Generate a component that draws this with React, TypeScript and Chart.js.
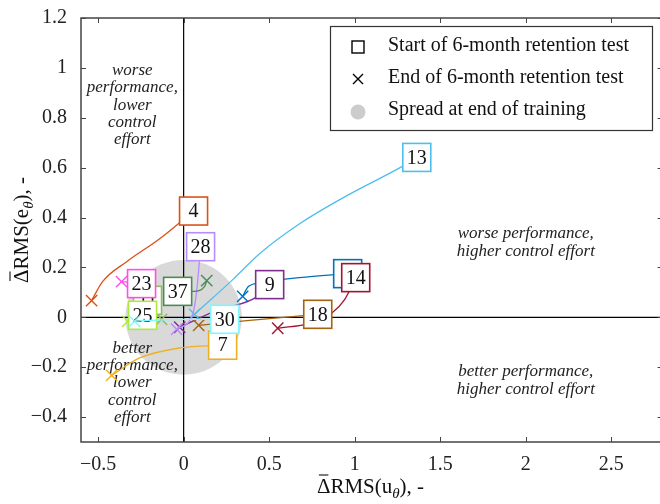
import React, { useEffect, useRef } from "react";
import { Chart, registerables } from "chart.js";

Chart.register(...registerables);

const SERIF = '"Liberation Serif", "Times New Roman", serif';

// axis ranges and ticks
const X_RANGE = [-0.6, 2.8];
const Y_RANGE = [-0.5, 1.2];
const xTicks = [-0.5, 0, 0.5, 1, 1.5, 2, 2.5];
const yTicks = [-0.4, -0.2, 0, 0.2, 0.4, 0.6, 0.8, 1, 1.2];

// participant ids and colours
const participants = ["2", "4", "7", "9", "11", "13", "14", "18", "23", "25", "28", "30", "37"];
const colours = [
  "#0072BD", "#D95319", "#EDB120", "#7E2F8E", "#8DBB5E", "#4DBEEE", "#A2142F",
  "#A6620F", "#FF4FE6", "#AEEA3E", "#B68CFF", "#7DF9FF", "#4A8A55",
];

// trajectories: first point = start of retention test, last point = end of test
const path2 = [[0.959, 0.175], [0.678, 0.159], [0.456, 0.139], [0.38, 0.124], [0.345, 0.084]];
const path4 = [[0.058, 0.426], [-0.14, 0.315], [-0.333, 0.223], [-0.474, 0.143], [-0.538, 0.067]];
const path7 = [[0.228, -0.112], [-0.023, -0.123], [-0.257, -0.163], [-0.421, -0.233]];
const path9 = [[0.503, 0.131], [0.433, 0.084], [0.181, 0.024], [-0.023, -0.04]];
const path11 = [[-0.211, 0.068], [-0.129, -0.008]];
const path13 = [[1.363, 0.641], [1.281, 0.606], [0.971, 0.494], [0.678, 0.375], [0.444, 0.255], [0.287, 0.151], [0.064, 0.012]];
const path14 = [[1.006, 0.159], [0.942, 0.072], [0.865, 0.016], [0.737, -0.024], [0.55, -0.044]];
const path18 = [[0.784, 0.012], [0.386, -0.012], [0.088, -0.032]];
const path23 = [[-0.246, 0.135], [-0.363, 0.143]];
const path25 = [[-0.24, 0.008], [-0.327, -0.016]];
const path28 = [[0.099, 0.283], [0.076, 0.104], [0.053, 0.012], [-0.041, -0.048]];
const path30 = [[0.24, -0.008], [-0.023, -0.008], [-0.287, -0.016]];
const path37 = [[-0.035, 0.104], [0.058, 0.104], [0.123, 0.124], [0.135, 0.147]];
const paths = [path2, path4, path7, path9, path11, path13, path14, path18, path23, path25, path28, path30, path37];

// spread at end of training (centre and half-widths)
const spreadCentre = [0, 0];
const spreadRadius = [0.34, 0.23];

const legendLabels = [
  "Start of 6-month retention test",
  "End of 6-month retention test",
  "Spread at end of training",
];

const quadrantNotes = [
  { x: -0.3, y: 0.85, lines: ["worse", "performance,", "lower", "control", "effort"] },
  { x: 2.0, y: 0.3, lines: ["worse performance,", "higher control effort"] },
  { x: 2.0, y: -0.253, lines: ["better performance,", "higher control effort"] },
  { x: -0.3, y: -0.263, lines: ["better", "performance,", "lower", "control", "effort"] },
];

const fmt = (v: number) => (v === 0 ? "0" : v < 0 ? "\u2212" + String(Math.abs(v)) : String(v));

// "Δ̄RMS(x_θ), -" with a bar over the delta and a subscript theta
function drawTitle(ctx: CanvasRenderingContext2D, cx: number, cy: number, sym: string) {
  const big = `21px ${SERIF}`;
  const small = `italic 15px ${SERIF}`;
  const parts = ["\u0394", "RMS(" + sym, "\u03B8", "), -"];
  ctx.font = big;
  const wD = ctx.measureText(parts[0]).width;
  const w1 = ctx.measureText(parts[1]).width;
  const w3 = ctx.measureText(parts[3]).width;
  ctx.font = small;
  const w2 = ctx.measureText(parts[2]).width;
  const x0 = cx - (wD + w1 + w2 + w3) / 2;
  const baseline = cy + 7;
  ctx.textAlign = "left";
  ctx.textBaseline = "alphabetic";
  ctx.fillStyle = "#111";
  ctx.strokeStyle = "#111";
  ctx.font = big;
  ctx.fillText(parts[0], x0, baseline);
  ctx.lineWidth = 1.1;
  ctx.beginPath();
  ctx.moveTo(x0 + 2, baseline - 18);
  ctx.lineTo(x0 + wD - 2, baseline - 18);
  ctx.stroke();
  ctx.fillText(parts[1], x0 + wD, baseline);
  ctx.font = small;
  ctx.fillText(parts[2], x0 + wD + w1, baseline + 5);
  ctx.font = big;
  ctx.fillText(parts[3], x0 + wD + w1 + w2, baseline);
}

const decor = {
  id: "decor",
  beforeDatasetsDraw(chart: any) {
    const { ctx, chartArea: a, scales } = chart;
    const x = scales.x, y = scales.y;
    ctx.save();
    ctx.beginPath();
    ctx.rect(a.left, a.top, a.right - a.left, a.bottom - a.top);
    ctx.clip();
    // spread ellipse
    const cx = x.getPixelForValue(spreadCentre[0]);
    const cy = y.getPixelForValue(spreadCentre[1]);
    const rx = Math.abs(x.getPixelForValue(spreadCentre[0] + spreadRadius[0]) - cx);
    const ry = Math.abs(y.getPixelForValue(spreadCentre[1] + spreadRadius[1]) - cy);
    ctx.fillStyle = "#d9d9d9";
    ctx.beginPath();
    ctx.ellipse(cx, cy, rx, ry, 0, 0, Math.PI * 2);
    ctx.fill();
    // zero lines
    const x0 = x.getPixelForValue(0), y0 = y.getPixelForValue(0);
    ctx.strokeStyle = "#000";
    ctx.lineWidth = 1.2;
    ctx.beginPath();
    ctx.moveTo(x0, a.top); ctx.lineTo(x0, a.bottom);
    ctx.moveTo(a.left, y0); ctx.lineTo(a.right, y0);
    ctx.stroke();
    // quadrant notes
    ctx.font = `italic 17px ${SERIF}`;
    ctx.fillStyle = "#222";
    ctx.textAlign = "center";
    ctx.textBaseline = "middle";
    for (const n of quadrantNotes) {
      const px = x.getPixelForValue(n.x), py = y.getPixelForValue(n.y);
      n.lines.forEach((l, i) => ctx.fillText(l, px, py + (i - (n.lines.length - 1) / 2) * 17.3));
    }
    ctx.restore();
  },
  afterDatasetDraw(chart: any, args: any) {
    const i = args.index;
    const pt = args.meta.data[0];
    if (!pt) return;
    const { ctx } = chart;
    const s = 28;
    ctx.save();
    ctx.fillStyle = "#fff";
    ctx.strokeStyle = colours[i];
    ctx.lineWidth = 1.6;
    ctx.fillRect(pt.x - s / 2, pt.y - s / 2, s, s);
    ctx.strokeRect(pt.x - s / 2, pt.y - s / 2, s, s);
    ctx.fillStyle = "#111";
    ctx.font = `20px ${SERIF}`;
    ctx.textAlign = "center";
    ctx.textBaseline = "middle";
    ctx.fillText(participants[i], pt.x, pt.y + 1);
    ctx.restore();
  },
  afterDraw(chart: any) {
    const { ctx, chartArea: a, scales } = chart;
    const x = scales.x, y = scales.y;
    ctx.save();
    // frame
    ctx.strokeStyle = "#444";
    ctx.lineWidth = 1.5;
    ctx.strokeRect(a.left, a.top, a.right - a.left, a.bottom - a.top);
    // inward ticks on all sides
    ctx.lineWidth = 1;
    ctx.beginPath();
    for (const v of xTicks) {
      const px = Math.round(x.getPixelForValue(v)) + 0.5;
      ctx.moveTo(px, a.bottom); ctx.lineTo(px, a.bottom - 5);
      ctx.moveTo(px, a.top); ctx.lineTo(px, a.top + 5);
    }
    for (const v of yTicks) {
      const py = Math.round(y.getPixelForValue(v)) + 0.5;
      ctx.moveTo(a.left, py); ctx.lineTo(a.left + 5, py);
      ctx.moveTo(a.right, py); ctx.lineTo(a.right - 5, py);
    }
    ctx.stroke();

    // legend
    const L = { l: 330, t: 26, r: 652, b: 130 };
    ctx.fillStyle = "#fff";
    ctx.fillRect(L.l, L.t, L.r - L.l, L.b - L.t);
    ctx.strokeStyle = "#333";
    ctx.lineWidth = 1.2;
    ctx.strokeRect(L.l + 0.5, L.t + 0.5, L.r - L.l, L.b - L.t);
    const rows = [46, 78, 110];
    const mx = 358;
    ctx.strokeStyle = "#000";
    ctx.lineWidth = 1.4;
    ctx.strokeRect(mx - 6, rows[0] - 5, 12, 12);
    ctx.beginPath();
    ctx.moveTo(mx - 5, rows[1] - 4); ctx.lineTo(mx + 5, rows[1] + 6);
    ctx.moveTo(mx + 5, rows[1] - 4); ctx.lineTo(mx - 5, rows[1] + 6);
    ctx.stroke();
    ctx.fillStyle = "#cccccc";
    ctx.beginPath();
    ctx.arc(mx, rows[2] + 2, 7.5, 0, Math.PI * 2);
    ctx.fill();
    ctx.fillStyle = "#111";
    ctx.font = `20px ${SERIF}`;
    ctx.textAlign = "left";
    ctx.textBaseline = "middle";
    legendLabels.forEach((t, i) => ctx.fillText(t, 388, rows[i]));

    // axis titles
    drawTitle(ctx, (a.left + 660) / 2, 486, "u");
    ctx.translate(21, (a.top + a.bottom) / 2);
    ctx.rotate(-Math.PI / 2);
    drawTitle(ctx, 0, 0, "e");
    ctx.restore();
  },
};

export default function App() {
  const ref = useRef<HTMLCanvasElement | null>(null);

  useEffect(() => {
    if (!ref.current) return;
    const N = participants.length;
    const datasets = paths.map((p, i) => ({
      label: participants[i],
      data: p.map(([px, py]) => ({ x: px, y: py })),
      borderColor: colours[i],
      borderWidth: 1.3,
      cubicInterpolationMode: "monotone" as const,
      fill: false,
      order: N - i,
      pointStyle: "crossRot" as const,
      pointRadius: p.map((_, k) => (k === p.length - 1 ? 8 : 0)),
      pointBorderColor: colours[i],
      pointBorderWidth: 1.4,
      pointBackgroundColor: colours[i],
    }));
    const chart = new Chart(ref.current, {
      type: "line",
      data: { datasets },
      options: {
        responsive: false,
        animation: false,
        events: [],
        layout: { padding: { top: 15, right: 9, left: 0, bottom: 0 } },
        plugins: { legend: { display: false }, tooltip: { enabled: false } },
        scales: {
          x: {
            type: "linear",
            min: X_RANGE[0],
            max: X_RANGE[1],
            grid: { display: false },
            border: { display: false },
            afterBuildTicks: (s: any) => { s.ticks = xTicks.map((v) => ({ value: v })); },
            afterFit: (s: any) => { s.height = 62; },
            ticks: {
              callback: (v: any) => fmt(Number(v)),
              font: { family: SERIF, size: 20 },
              color: "#222",
              padding: 3,
              maxRotation: 0,
              autoSkip: false,
            },
          },
          y: {
            type: "linear",
            min: Y_RANGE[0],
            max: Y_RANGE[1],
            grid: { display: false },
            border: { display: false },
            afterBuildTicks: (s: any) => { s.ticks = yTicks.map((v) => ({ value: v })); },
            afterFit: (s: any) => { s.width = 81; },
            ticks: {
              callback: (v: any) => fmt(Number(v)),
              font: { family: SERIF, size: 20 },
              color: "#222",
              padding: 6,
              autoSkip: false,
            },
          },
        },
      },
      plugins: [decor],
    });
    return () => chart.destroy();
  }, []);

  return (
    <div style={{ position: "fixed", left: 0, top: 0, width: 660, height: 504, overflow: "hidden", background: "#fff" }}>
      <canvas ref={ref} width={672} height={504} style={{ display: "block" }} />
    </div>
  );
}
